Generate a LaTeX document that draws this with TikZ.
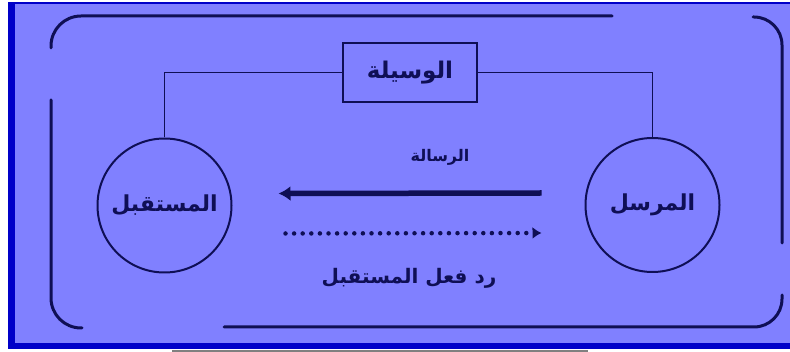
\documentclass[tikz,border=0pt]{standalone}
\usepackage{fontspec}
\newfontfamily\arabicfont[Script=Arabic]{DejaVu Sans}
\TeXXeTstate=1
\usetikzlibrary{arrows.meta}
\definecolor{panelfill}{RGB}{128,128,255}
\definecolor{panelblue}{RGB}{0,0,200}
\definecolor{ink}{RGB}{15,15,85}
\tikzset{
  party/.style={circle,draw=ink,line width=2pt,minimum size=134pt,inner sep=0pt,
    text=ink,font=\arabicfont\bfseries\fontsize{22}{26}\selectfont},
  channel/.style={rectangle,draw=ink,line width=2pt,minimum width=134pt,minimum height=59pt,
    inner sep=0pt,text=ink,font=\arabicfont\bfseries\fontsize{23}{27}\selectfont},
  msglabel/.style={text=ink,inner sep=0pt,font=\arabicfont\bfseries\fontsize{16}{19}\selectfont},
  wire/.style={draw=ink,line width=1.9pt},
  bracket/.style={draw=ink,line width=3pt,line cap=round},
  msgline/.style={draw=ink,line width=5.5pt,-{Latex[length=12pt,width=15pt]}},
  replyline/.style={draw=ink,line width=4.5pt,line cap=round,dash pattern=on 0pt off 8.6pt,
    -{Latex[length=9pt,width=12pt]}}
}
\begin{document}
\begin{tikzpicture}[x=1pt,y=-1pt]
\useasboundingbox (0,0) rectangle (790,352);
% panel
\fill[panelfill] (12,3) rectangle (790,346);
\draw[panelblue,line width=2pt] (8,3.5) -- (790,3.5);
\draw[panelblue,line width=6.5pt] (11.5,2.5) -- (11.5,349);
\draw[panelblue,line width=6pt] (8,346) -- (790,346);
\draw[gray,line width=2pt] (172,351) -- (588,351);
% outer bracket
\draw[bracket,rounded corners=30pt] (51,48) |- (612,16);
\draw[bracket,rounded corners=30pt] (51,100) |- (82,328);
\draw[bracket,rounded corners=28pt] (224,327) -| (782,295);
\draw[bracket,rounded corners=28pt] (753,17) -| (782,243);
% nodes
\node[channel] (wasila) at (410,72.5) {\beginR الوسيلة\endR};
\node[party] (mustaqbil) at (164.5,205.5) {\beginR المستقبل\endR};
\node[party] (mursil) at (652.5,205) {\beginR المرسل\endR};
\node[msglabel] (risala) at (440,157) {\beginR الرسالة\endR};
\node[msglabel,font=\arabicfont\bfseries\fontsize{20}{24}\selectfont] (raddfil) at (409,278) {\beginR رد فعل المستقبل\endR};
% connectors
\draw[wire] (wasila.west) -| (mustaqbil.north);
\draw[wire] (wasila.east) -| (mursil.north);
\draw[msgline] ([shift={(-43,-12)}]mursil.west) -- ([shift={(46,-12)}]mustaqbil.east);
\draw[replyline] ([shift={(53,28)}]mustaqbil.east) -- ([shift={(-43,28)}]mursil.west);
\end{tikzpicture}
\end{document}
